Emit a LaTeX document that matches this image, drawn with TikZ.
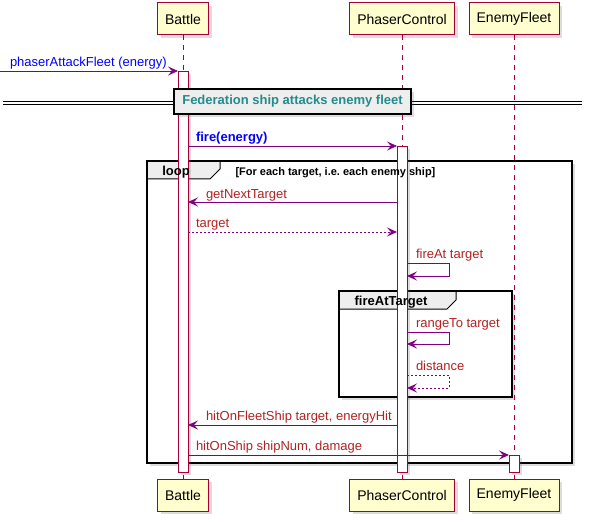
\documentclass[tikz,border=0pt]{standalone}
\usepackage{fontspec}
\setmainfont{Liberation Sans}
\usetikzlibrary{arrows.meta,shadows}
\definecolor{lifered}{HTML}{A80036}
\definecolor{partfill}{HTML}{FEFECE}
\definecolor{arrowpurple}{HTML}{800080}
\definecolor{msgred}{HTML}{B22222}
\definecolor{divteal}{HTML}{248C8C}
\definecolor{tabgray}{HTML}{EEEEEE}
\frenchspacing

\begin{document}
\begin{tikzpicture}[x=1pt,y=-1pt,
      every node/.style={inner sep=0pt,outer sep=0pt},
      shadowed/.style={drop shadow={shadow xshift=3pt,shadow yshift=-3pt,opacity=.22,fill=black!60}},
      part/.style={draw=lifered,line width=1pt,fill=partfill,minimum height=32pt,
        font=\fontsize{14}{16}\selectfont,shadowed},
      life/.style={draw=lifered,line width=.8pt,dash pattern=on 5pt off 5pt},
      act/.style={draw=lifered,line width=.8pt,fill=white,minimum width=10pt,anchor=north,shadowed},
      msg/.style={draw=arrowpurple,line width=.9pt,-{Stealth[length=10pt,width=9pt,inset=4pt]}},
      ret/.style={msg,dash pattern=on 2pt off 2pt},
      lbl/.style={anchor=base west,text=msgred,font=\fontsize{13}{15}\selectfont},
      tab/.style={draw=black,line width=1pt,fill=tabgray},
      box/.style={draw=black,line width=2pt},
      tablbl/.style={anchor=base,font=\bfseries\fontsize{13}{15}\selectfont}]
    \useasboundingbox (0,0) rectangle (593,521);

    % loop
    \fill[white,shadowed] (147,161) rectangle (572,463);
    \draw[tab] (147,161) -- (220,161) -- (220,169) -- (210,179) -- (147,179) -- cycle;
    \draw[box] (147,161) rectangle (572,463);

    % fireAtTarget
    \fill[white,shadowed] (339,291) rectangle (512,397);
    \draw[tab] (339,291) -- (456,291) -- (456,300) -- (447,309) -- (339,309) -- cycle;
    \draw[box] (339,291) rectangle (512,397);

    % participants
    \foreach \p/\txt/\cx/\w in {battle/Battle/183/51,phaser/PhaserControl/402/105,fleet/EnemyFleet/514/90}{
      \node[part,minimum width=\w pt] (\p-top) at (\cx,19) {\txt};
      \node[part,minimum width=\w pt] (\p-bot) at (\cx,495) {\txt};
      \draw[life] (\p-top) -- (\p-bot);
    }

    % activations
    \node[act,minimum height=401pt] (battle-act) at (183,71) {};
    \node[act,minimum height=326pt] (phaser-act) at (402,146) {};
    \node[act,minimum height=17pt] (fleet-act) at (514,455) {};

    % divider
    \coordinate (div-l) at (3,101);
    \coordinate (div-r) at (582,101);
    \draw[line width=.8pt] (div-l) -- (div-r) ([yshift=-3pt]div-l) -- ([yshift=-3pt]div-r);
    \node[draw=black,line width=1.6pt,fill=tabgray,minimum width=237pt,minimum height=25pt,
      text=divteal,font=\bfseries\fontsize{13}{15}\selectfont,shadowed]
      (divider) at (292.5,101.5) {Federation ship attacks enemy fleet};

    % messages
    \coordinate (caller) at (0,71);
    \draw[msg] (caller) -- (caller -| battle-act.west);
    \node[lbl,text=blue] (m-attack) at (10,66.5) {phaserAttackFleet (energy)};
    \draw[msg] (battle-act.east |- 0,146) -- (phaser-act.west |- 0,146);
    \node[lbl,text=blue,font=\bfseries\fontsize{13}{15}\selectfont] (m-fire) at (196,141.5) {fire(energy)};

    \node[tablbl] (loop-lbl) at (176,175.5) {loop};
    \node[anchor=base west,font=\bfseries\fontsize{11}{13}\selectfont] (loop-cond) at (235.5,175.5)
      {[For each target, i.e. each enemy ship]};
    \draw[msg] (phaser-act.west |- 0,202) -- (battle-act.east |- 0,202);
    \node[lbl] (m-next) at (206,198) {getNextTarget};
    \draw[ret] (battle-act.east |- 0,232) -- (phaser-act.west |- 0,232);
    \node[lbl] (m-target) at (196,227.5) {target};
    \draw[msg] (phaser-act.east |- 0,263) -- ++(42,0) -- ++(0,13) -- (phaser-act.east |- 0,276);
    \node[lbl] (m-fireat) at (416,258.5) {fireAt target};

    \node[tablbl] (fire-lbl) at (391,305.5) {fireAtTarget};
    \draw[msg] (phaser-act.east |- 0,332) -- ++(42,0) -- ++(0,12) -- (phaser-act.east |- 0,344);
    \node[lbl] (m-range) at (416,327.5) {rangeTo target};
    \draw[ret] (phaser-act.east |- 0,375) -- ++(42,0) -- ++(0,13) -- (phaser-act.east |- 0,388);
    \node[lbl] (m-dist) at (416,370.5) {distance};
    \draw[msg] (phaser-act.west |- 0,425) -- (battle-act.east |- 0,425);
    \node[lbl] (m-hit) at (206,420.5) {hitOnFleetShip target, energyHit};
    \draw[msg] (battle-act.east |- 0,455) -- (fleet-act.west |- 0,455);
    \node[lbl] (m-ship) at (196,450.5) {hitOnShip shipNum, damage};
  \end{tikzpicture}
\end{document}
